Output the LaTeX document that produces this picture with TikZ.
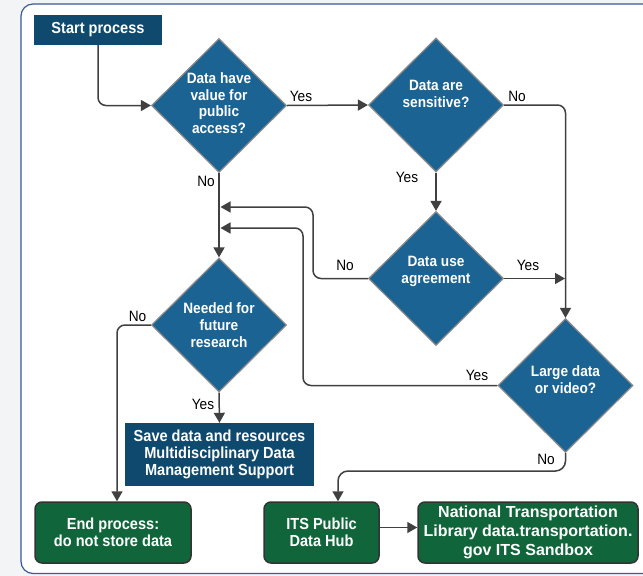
\documentclass[tikz,border=0pt]{standalone}
\usepackage{fontspec}
\setmainfont{Liberation Sans}
\newfontfamily\nfont{Liberation Sans}[FakeStretch=0.91]
\usetikzlibrary{shapes.geometric,arrows.meta}
\definecolor{navy}{HTML}{0F4A6E}
\definecolor{dblue}{HTML}{1A6392}
\definecolor{dgreen}{HTML}{10663A}
\definecolor{bggray}{HTML}{F3F4F6}
\definecolor{panelblue}{HTML}{3A5A98}
\definecolor{linegray}{HTML}{404040}
\definecolor{dborder}{HTML}{8A8A8A}
\begin{document}
\begin{tikzpicture}[x=1pt,y=-1pt,
 dia/.style={diamond, fill=dblue, draw=dborder, line width=1.2pt, minimum width=135pt, minimum height=134pt, inner sep=0pt},
 diatext/.style={text=white, font=\nfont\bfseries\fontsize{15}{16.7}\selectfont, align=center, inner sep=0pt},
 navybox/.style={fill=navy, text=white, font=\nfont\bfseries\fontsize{16}{17.3}\selectfont, align=center, inner sep=0pt},
 greenbox/.style={fill=dgreen, draw=black!80, line width=1.5pt, rounded corners=7pt, text=white, font=\nfont\bfseries\fontsize{16}{17.5}\selectfont, align=center, inner sep=0pt, minimum height=61pt},
 conn/.style={draw=linegray, line width=1.5pt, -{Triangle[length=10pt,width=11pt]}},
 lab/.style={font=\nfont\fontsize{15}{17}\selectfont, inner sep=0pt, text=black}]
\useasboundingbox (0,0) rectangle (643,576);
\fill[bggray] (0,0) rectangle (643,576);
\draw[panelblue, line width=1.2pt, fill=white, rounded corners=12pt] (21,4) rectangle (665,573.5);

% boxes
\node[navybox, minimum width=128pt, minimum height=30pt] (start) at (98,30) {Start process};
\node[navybox, minimum width=189pt, minimum height=63pt] (save) at (219.5,454.5) {Save data and resources\\Multidisciplinary Data\\Management Support};
\node[greenbox, minimum width=156pt] (end) at (113,532.5) {End process:\\do not store data};
\node[greenbox, minimum width=115pt] (its) at (321.5,532.5) {ITS Public\\Data Hub};
\node[greenbox, minimum width=220pt, font=\bfseries\fontsize{16}{19}\selectfont] (ntl) at (528,532.5) {National Transportation\\Library data.transportation.\\gov ITS Sandbox};

% diamonds
\node[dia] (d1) at (219,105.5) {};
\node[diatext] (d1t) at (219,103) {Data have\\value for\\public\\access?};
\node[dia] (d2) at (436,105) {};
\node[diatext] (d2t) at (436,94) {Data are\\sensitive?};
\node[dia] (d3) at (436,278.5) {};
\node[diatext] (d3t) at (436,271.5) {Data use\\agreement};
\node[dia] (d4) at (219,325) {};
\node[diatext] (d4t) at (219,325) {Needed for\\future\\research};
\node[dia] (large) at (565.5,385.5) {};
\node[diatext] (larget) at (565.5,379.5) {Large data\\or video?};

% junction points
\coordinate (j1) at (565,278.5);
\coordinate (j2) at (220.5,207);
\coordinate (j3) at (220.5,228);

% connectors
\draw[conn, rounded corners=8pt] (start.south) |- (d1.west);
\draw[conn] (d1.east) -- (d2.west);
\draw[conn, rounded corners=8pt] (d2.east) -| (large.north);
\draw[conn] (d2.south) -- (d3.north);
\draw[conn] (d3.east) -- (j1);
\draw[conn, rounded corners=8pt] (d3.west) -| (313,207) -- (j2);
\draw[conn, rounded corners=8pt] (large.west) -| (303,228) -- (j3);
\draw[conn] (d1.south) -- (d4.north);
\draw[conn, rounded corners=8pt] (d4.west) -| ([xshift=4pt]end.north);
\draw[conn] (d4.south) -- (save.north);
\draw[conn, rounded corners=10pt] (large.south) |- (338,471) -- ([xshift=16.5pt]its.north);
\draw[conn] ([yshift=5pt]its.east) -- ([yshift=5pt]ntl.west);

% labels
\node[lab] (l1) at (301,96) {Yes};
\node[lab] (l2) at (206,181.5) {No};
\node[lab] (l3) at (517,96) {No};
\node[lab] (l4) at (407,177) {Yes};
\node[lab] (l5) at (345,265) {No};
\node[lab] (l6) at (528,265) {Yes};
\node[lab] (l7) at (477,375) {Yes};
\node[lab] (l8) at (137.5,316) {No};
\node[lab] (l9) at (203,404) {Yes};
\node[lab] (l10) at (546,459.5) {No};
\end{tikzpicture}
\end{document}
